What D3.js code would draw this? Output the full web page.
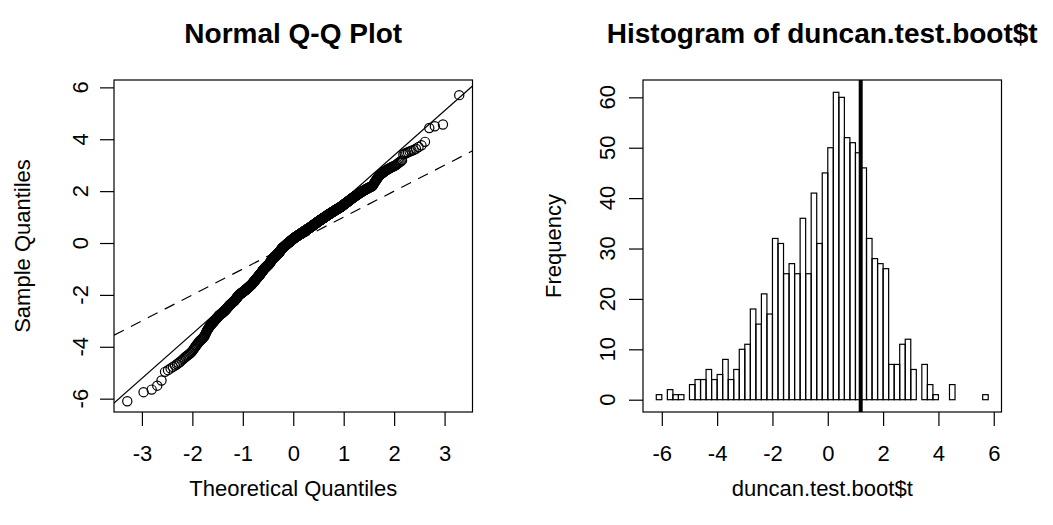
<!DOCTYPE html>
<html>
<head>
<meta charset="utf-8">
<script src="https://cdn.jsdelivr.net/npm/d3@7"></script>
<style>
  body { margin: 0; background: #fff; }
  text { font-family: "Liberation Sans", Arial, sans-serif; fill: #000; }
</style>
</head>
<body>
<div id="chart"></div>
<script>
// histogram of duncan.test.boot$t : breaks start and width, counts per bin
const binStart = -6.2;
const binWidth = 0.2;
const counts = [1, 0, 2, 1, 1, 0, 3, 4, 4, 6, 4, 5, 8, 4, 6, 10, 11,
    18, 15, 21, 17, 32, 31, 25, 27, 25, 36, 25, 41, 31, 45, 50, 61,
    60, 52, 51, 49, 46, 32, 28, 27, 26, 7, 7, 11, 12, 6,
    0, 7, 3, 1, 0, 0, 3, 0, 0, 0, 0, 0, 1];
const t0 = 1.19; // vertical line in the histogram

// Q-Q plot: extremes of the sample, and the two reference lines
const sampleRange = [-6.04, 5.81];
const solidLine = { intercept: -0.06, slope: 1.72 };
const dashedLine = { intercept: 0, slope: 1 };

// tick labels
const qqXTicks = [-3, -2, -1, 0, 1, 2, 3];
const qqYTicks = [-6, -4, -2, 0, 2, 4, 6];
const histXTicks = [-6, -4, -2, 0, 2, 4, 6];
const histYTicks = [0, 10, 20, 30, 40, 50, 60];

const W = 1053, H = 525;
const boxW = 358.5, boxH = 332, boxTop = 80;
const tickLen = 14;
const labelSize = 22, titleSize = 28;

const svg = d3.select("#chart").append("svg")
    .attr("width", W)
    .attr("height", H);

// R-style axis range: data range extended by 4% on each side
function pad4(ext) {
    const d = (ext[1] - ext[0]) * 0.04;
    return [ext[0] - d, ext[1] + d];
}

// inverse normal CDF (Acklam), for the theoretical quantiles
function qnorm(p) {
    const a = [-39.69683028665376, 220.9460984245205, -275.9285104469687, 138.3577518672690, -30.66479806614716, 2.506628277459239];
    const b = [-54.47609879822406, 161.5858368580409, -155.6989798598866, 66.80131188771972, -13.28068155288572];
    const c = [-0.007784894002430293, -0.3223964580411365, -2.400758277161838, -2.549732539343734, 4.374664141464968, 2.938163982698783];
    const d = [0.007784695709041462, 0.3224671290700398, 2.445134137142996, 3.754408661907416];
    const pl = 0.02425;
    let q, r;
    if (p < pl) {
        q = Math.sqrt(-2 * Math.log(p));
        return (((((c[0] * q + c[1]) * q + c[2]) * q + c[3]) * q + c[4]) * q + c[5]) /
            ((((d[0] * q + d[1]) * q + d[2]) * q + d[3]) * q + 1);
    }
    if (p > 1 - pl) {
        q = Math.sqrt(-2 * Math.log(1 - p));
        return -(((((c[0] * q + c[1]) * q + c[2]) * q + c[3]) * q + c[4]) * q + c[5]) /
            ((((d[0] * q + d[1]) * q + d[2]) * q + d[3]) * q + 1);
    }
    q = p - 0.5;
    r = q * q;
    return (((((a[0] * r + a[1]) * r + a[2]) * r + a[3]) * r + a[4]) * r + a[5]) * q /
        (((((b[0] * r + b[1]) * r + b[2]) * r + b[3]) * r + b[4]) * r + 1);
}

// sorted sample: each bin's values spread through the bin
const sample = [];
counts.forEach((c, i) => {
    for (let j = 0; j < c; j++) {
        sample.push(binStart + binWidth * (i + (j + 0.5) / c));
    }
});
const n = sample.length;
const qq = sample.map((s, k) => ({ x: qnorm((k + 0.5) / n), y: s }));

function drawPanel(x0, opts) {
    const g = svg.append("g").attr("transform", `translate(${x0},${boxTop})`);
    const clipId = "clip" + Math.round(x0);
    g.append("clipPath").attr("id", clipId)
        .append("rect").attr("width", boxW).attr("height", boxH);

    const x = opts.x, y = opts.y;

    // x axis (plain hyphen for negatives, like R)
    const xa = g.append("g")
        .attr("transform", `translate(0,${boxH})`)
        .call(d3.axisBottom(x).tickValues(opts.xTicks).tickSize(tickLen).tickSizeOuter(0)
            .tickPadding(19).tickFormat(d => String(d)));
    xa.select(".domain").remove();
    xa.selectAll("line").attr("stroke", "#000").attr("stroke-width", 1.2);
    xa.selectAll("text").style("font-size", labelSize + "px").attr("fill", "#000");

    // y axis, labels turned like R's default
    const ya = g.append("g")
        .call(d3.axisLeft(y).tickValues(opts.yTicks).tickSize(tickLen).tickSizeOuter(0).tickFormat(""));
    ya.select(".domain").remove();
    ya.selectAll("line").attr("stroke", "#000").attr("stroke-width", 1.2);
    g.append("g").selectAll("text")
        .data(opts.yTicks)
        .enter()
        .append("text")
        .attr("transform", d => `translate(${opts.yLabelX},${y(d)}) rotate(-90)`)
        .attr("text-anchor", "middle")
        .attr("dy", "0.35em")
        .style("font-size", labelSize + "px")
        .text(d => String(d));

    opts.marks(g, clipId);

    // box
    g.append("rect")
        .attr("width", boxW).attr("height", boxH)
        .attr("fill", "none").attr("stroke", "#000").attr("stroke-width", 1.2);

    // titles
    g.append("text")
        .attr("x", boxW / 2).attr("y", -37)
        .attr("text-anchor", "middle")
        .style("font-size", titleSize + "px")
        .style("font-weight", "bold")
        .text(opts.title);
    g.append("text")
        .attr("x", boxW / 2).attr("y", boxH + 84)
        .attr("text-anchor", "middle")
        .style("font-size", labelSize + "px")
        .text(opts.xLabel);
    g.append("text")
        .attr("transform", `translate(${opts.yTitleX},${boxH / 2}) rotate(-90)`)
        .attr("text-anchor", "middle")
        .attr("dy", "0.35em")
        .style("font-size", labelSize + "px")
        .text(opts.yLabel);
}

// Normal Q-Q plot
const qx = d3.scaleLinear().domain(pad4(d3.extent(qq, d => d.x))).range([0, boxW]);
const qy = d3.scaleLinear().domain(pad4(sampleRange)).range([boxH, 0]);

drawPanel(114, {
    x: qx, y: qy,
    xTicks: qqXTicks, yTicks: qqYTicks,
    yLabelX: -34, yTitleX: -92,
    title: "Normal Q-Q Plot",
    xLabel: "Theoretical Quantiles",
    yLabel: "Sample Quantiles",
    marks: (g, clipId) => {
        const lines = g.append("g").attr("clip-path", `url(#${clipId})`);
        const xd = qx.domain();
        [solidLine, dashedLine].forEach((l, i) => {
            lines.append("line")
                .attr("x1", qx(xd[0])).attr("y1", qy(l.intercept + l.slope * xd[0]))
                .attr("x2", qx(xd[1])).attr("y2", qy(l.intercept + l.slope * xd[1]))
                .attr("stroke", "#000")
                .attr("stroke-width", 1.2)
                .attr("stroke-dasharray", i === 1 ? "11,8" : null);
        });
        g.append("g").selectAll("circle")
            .data(qq)
            .enter()
            .append("circle")
            .attr("cx", d => qx(d.x))
            .attr("cy", d => qy(d.y))
            .attr("r", 4.6)
            .attr("fill", "none")
            .attr("stroke", "#000")
            .attr("stroke-width", 1.2);
    }
});

// Histogram
const bins = counts.map((c, i) => ({ x0: binStart + i * binWidth, x1: binStart + (i + 1) * binWidth, count: c }));
const hx = d3.scaleLinear().domain(pad4([bins[0].x0, bins[bins.length - 1].x1])).range([0, boxW]);
const hy = d3.scaleLinear().domain(pad4([0, d3.max(counts)])).range([boxH, 0]);

drawPanel(643, {
    x: hx, y: hy,
    xTicks: histXTicks, yTicks: histYTicks,
    yLabelX: -36, yTitleX: -90,
    title: "Histogram of duncan.test.boot$t",
    xLabel: "duncan.test.boot$t",
    yLabel: "Frequency",
    marks: (g, clipId) => {
        g.append("g").selectAll("rect")
            .data(bins)
            .enter()
            .append("rect")
            .attr("x", d => hx(d.x0))
            .attr("y", d => hy(d.count))
            .attr("width", d => hx(d.x1) - hx(d.x0))
            .attr("height", d => hy(0) - hy(d.count))
            .attr("fill", "none")
            .attr("stroke", "#000")
            .attr("stroke-width", 1.2);
        g.append("line")
            .attr("x1", hx(t0)).attr("x2", hx(t0))
            .attr("y1", 0).attr("y2", boxH)
            .attr("stroke", "#000")
            .attr("stroke-width", 4);
    }
});
</script>
</body>
</html>
